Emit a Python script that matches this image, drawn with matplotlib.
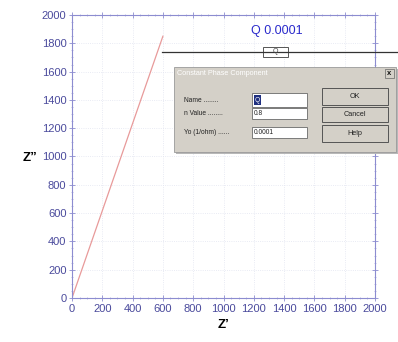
import matplotlib
matplotlib.use("Agg")
import matplotlib.pyplot as plt
import numpy as np
from matplotlib.patches import Rectangle
from matplotlib.ticker import AutoMinorLocator
from matplotlib.colors import LinearSegmentedColormap

plt.rcParams['font.family'] = ['Liberation Sans', 'DejaVu Sans']

# data
z_real = [0, 600]
z_imag = [0, 1850]
x_ticks = [0, 200, 400, 600, 800, 1000, 1200, 1400, 1600, 1800, 2000]
y_ticks = [0, 200, 400, 600, 800, 1000, 1200, 1400, 1600, 1800, 2000]
cpe_label = "Q 0.0001"
dialog_title = "Constant Phase Component"
field_labels = ["Name ........", "n Value ........", "Yo (1/ohm) ......"]
field_values = ["Q", "0.8", "0.0001"]
buttons = ["OK", "Cancel", "Help"]

W, H = 398, 342
fig = plt.figure(figsize=(W / 100, H / 100), dpi=100)
fig.patch.set_facecolor("white")

def fx(x):
    return x / W

def fy(y):
    return 1 - y / H

# axes: left 72, right 375, top 15, bottom 298 (pixels)
ax = fig.add_axes([fx(72), fy(298), (375 - 72) / W, (298 - 15) / H])
ax.plot(z_real, z_imag, color="#e89a9a", lw=0.9)
ax.set_xlim(0, 2000)
ax.set_ylim(0, 2000)
ax.set_xticks(x_ticks)
ax.set_yticks(y_ticks)
ax.xaxis.set_minor_locator(AutoMinorLocator(4))
ax.yaxis.set_minor_locator(AutoMinorLocator(4))
tick_col = "#4a4a9c"
spine_col = "#8c8cd0"
for s in ax.spines.values():
    s.set_color(spine_col)
    s.set_linewidth(0.8)
ax.tick_params(which="both", colors=spine_col, labelcolor=tick_col, direction="inout",
               top=True, right=True, labelsize=8, pad=2)
ax.tick_params(which="major", length=4, width=0.6)
ax.tick_params(which="minor", length=2, width=0.5, color="#a8a8dc")
ax.grid(True, which="major", color="#e2e4f0", lw=0.6, ls=":")
ax.set_xlabel("Z\u2019", fontsize=9.5, fontweight="bold", labelpad=4)
fig.text(fx(30), fy(158), "Z\u201d", fontsize=9.5, fontweight="bold", ha="center", va="center")

# overlay: circuit element line and label
fig.add_artist(plt.Line2D([fx(162), fx(398)], [fy(52), fy(52)], color="#333333", lw=0.9,
                          transform=fig.transFigure))
fig.text(fx(277), fy(31), cpe_label, fontsize=9, color="#2a2acc", ha="center", va="center")
fig.add_artist(Rectangle((fx(263), fy(56.5)), (288 - 263) / W, 9.5 / H, transform=fig.transFigure,
                         facecolor="white", edgecolor="#555555", lw=0.7))
fig.text(fx(275.5), fy(51.8), "Q", fontsize=5, color="#444444", ha="center", va="center")

# dialog body
dl, dr, dt, db = 174, 396, 67, 152
fig.add_artist(Rectangle((fx(dl + 1.5), fy(db + 1.5)), (dr - dl) / W, (db - dt) / H,
                         transform=fig.transFigure, facecolor="#b8b8b8", edgecolor="none"))
fig.add_artist(Rectangle((fx(dl), fy(db)), (dr - dl) / W, (db - dt) / H, transform=fig.transFigure,
                         facecolor="#d4d0c8", edgecolor="#9a9a9a", lw=0.6))
# title bar with gradient
tax = fig.add_axes([fx(dl + 1), fy(80), (dr - dl - 2) / W, (80 - 67.5) / H])
grad = np.linspace(0, 1, 256).reshape(1, -1)
cm = LinearSegmentedColormap.from_list("tb", ["#0a246a", "#a6caf0"])
tax.imshow(grad, aspect="auto", cmap=cm, extent=[0, 1, 0, 1])
tax.set_axis_off()
fig.text(fx(dl + 3), fy(73.5), dialog_title, fontsize=5.2, color="white", ha="left", va="center")
# close button
fig.add_artist(Rectangle((fx(385), fy(78)), 9 / W, 8.5 / H, transform=fig.transFigure,
                         facecolor="#d4d0c8", edgecolor="#666666", lw=0.5))
fig.text(fx(389.5), fy(73.8), "x", fontsize=5.5, fontweight="bold", color="#111111",
         ha="center", va="center")

# fields
rows = [(93, 107), (108, 119), (127, 138)]
for lab, val, (t, b) in zip(field_labels, field_values, rows):
    cy = (t + b) / 2
    fig.text(fx(184), fy(cy), lab, fontsize=4.8, color="#222222", ha="left", va="center")
    fig.add_artist(Rectangle((fx(252), fy(b)), (307 - 252) / W, (b - t) / H, transform=fig.transFigure,
                             facecolor="white", edgecolor="#6a6a6a", lw=0.6))
    if val == "Q":
        fig.add_artist(Rectangle((fx(253.5), fy(b - 2)), 7 / W, (b - t - 4) / H,
                                 transform=fig.transFigure, facecolor="#203080", edgecolor="none"))
        fig.text(fx(257), fy(cy), val, fontsize=4.8, color="white", ha="center", va="center")
    else:
        fig.text(fx(254), fy(cy), val, fontsize=4.8, color="#222222", ha="left", va="center")

# buttons
brows = [(88, 105), (107, 122), (125, 142)]
for lab, (t, b) in zip(buttons, brows):
    fig.add_artist(Rectangle((fx(322), fy(b)), (388 - 322) / W, (b - t) / H, transform=fig.transFigure,
                             facecolor="#d4d0c8", edgecolor="#555555", lw=0.7))
    fig.text(fx(355), fy((t + b) / 2), lab, fontsize=5.2, color="#222222", ha="center", va="center")

fig.savefig("out.png", dpi=100)
